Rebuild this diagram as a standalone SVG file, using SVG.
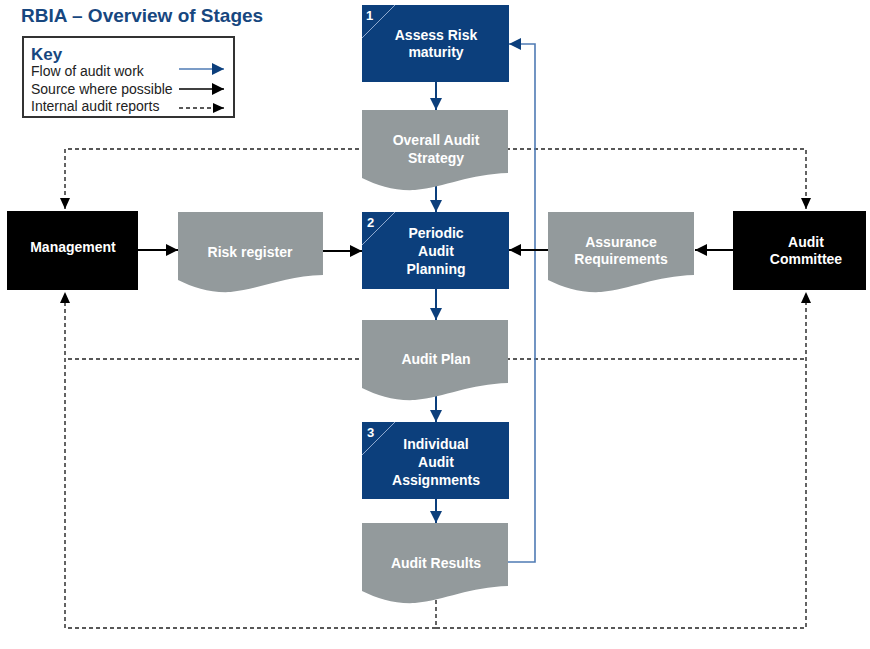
<svg xmlns="http://www.w3.org/2000/svg" xmlns:xlink="http://www.w3.org/1999/xlink" width="870" height="649" viewBox="0 0 870 649">
<style>
text{font-family:"Liberation Sans",Arial,sans-serif}
.title{font-size:19px;font-weight:bold;fill:#17477f}
.key{font-size:14px;fill:#222}
.keyh{font-size:17px;font-weight:bold;fill:#17477f}
.nt{font-size:14px;font-weight:bold;fill:#fff;text-anchor:middle}
.num{font-size:13px;font-weight:bold;fill:#fff}
.stage{fill:#0c3f7c}
.doc{fill:#939a9c}
.blk{fill:#000}
.diag{stroke:#8fa9cf;stroke-width:1;fill:none}
.flow{stroke:#0c3f7c;stroke-width:2;fill:none}
.fb{stroke:#4f7bb4;stroke-width:1.6;fill:none}
.src{stroke:#000;stroke-width:2;fill:none}
.rep{stroke:#222;stroke-width:1.4;stroke-dasharray:4 3;fill:none}
</style>
<defs>
<marker id="mBlue" markerUnits="userSpaceOnUse" markerWidth="14" markerHeight="14" refX="12" refY="7" orient="auto"><path d="M0,1 L12,7 L0,13 Z" fill="#0c3f7c"/></marker>
<marker id="mFb" markerUnits="userSpaceOnUse" markerWidth="14" markerHeight="14" refX="12" refY="7" orient="auto"><path d="M0,1 L12,7 L0,13 Z" fill="#0c3f7c"/></marker>
<marker id="mBlk" markerUnits="userSpaceOnUse" markerWidth="14" markerHeight="14" refX="12" refY="7" orient="auto"><path d="M0,1 L12,7 L0,13 Z" fill="#000"/></marker>
<marker id="mDash" markerUnits="userSpaceOnUse" markerWidth="14" markerHeight="14" refX="11" refY="6" orient="auto"><path d="M0,1 L11,6 L0,11 Z" fill="#000"/></marker>
<path id="docShape" d="M0,0 H146 V63 C108,64 83,77 53,80 C33,81 16,76 0,68 Z"/>
</defs>

<text class="title" x="21" y="22">RBIA – Overview of Stages</text>

<g id="key">
<rect x="23" y="37" width="211" height="80" fill="#fff" stroke="#333" stroke-width="2"/>
<text class="keyh" x="31" y="60">Key</text>
<text class="key" x="31" y="76">Flow of audit work</text>
<text class="key" x="31" y="94">Source where possible</text>
<text class="key" x="31" y="111">Internal audit reports</text>
<line x1="179" y1="69" x2="224" y2="69" stroke="#4f7bb4" stroke-width="1.6" marker-end="url(#mBlue)"/>
<line x1="179" y1="89" x2="224" y2="89" stroke="#000" stroke-width="1.6" marker-end="url(#mBlk)"/>
<line x1="179" y1="108" x2="224" y2="108" class="rep" marker-end="url(#mDash)"/>
</g>

<g id="connectors">
<path class="rep" d="M436,149 H65 V209" marker-end="url(#mDash)"/>
<path class="rep" d="M436,149 H806 V209" marker-end="url(#mDash)"/>
<path class="rep" d="M436,359 H65"/>
<path class="rep" d="M436,359 H806"/>
<path class="rep" d="M436,600 V628 H65 V292" marker-end="url(#mDash)"/>
<path class="rep" d="M436,628 H806 V292" marker-end="url(#mDash)"/>
<line class="flow" x1="436" y1="82" x2="436" y2="110" marker-end="url(#mBlue)"/>
<line class="flow" x1="436" y1="186" x2="436" y2="212" marker-end="url(#mBlue)"/>
<line class="flow" x1="436" y1="289" x2="436" y2="320" marker-end="url(#mBlue)"/>
<line class="flow" x1="436" y1="396" x2="436" y2="422" marker-end="url(#mBlue)"/>
<line class="flow" x1="436" y1="499" x2="436" y2="523" marker-end="url(#mBlue)"/>
<path class="fb" d="M508,562 H535 V44 H509" marker-end="url(#mFb)"/>
<line class="src" x1="138" y1="250" x2="178" y2="250" marker-end="url(#mBlk)"/>
<line class="src" x1="323" y1="251" x2="362" y2="251" marker-end="url(#mBlk)"/>
<line class="src" x1="548" y1="250" x2="509" y2="250" marker-end="url(#mBlk)"/>
<line class="src" x1="733" y1="250" x2="695" y2="250" marker-end="url(#mBlk)"/>
</g>

<g id="stage1">
<rect class="stage" x="362" y="5" width="147" height="77"/>
<line class="diag" x1="362" y1="38" x2="395" y2="5"/>
<text class="num" x="366" y="20">1</text>
<text class="nt" x="436" y="40">Assess Risk</text>
<text class="nt" x="436" y="57">maturity</text>
</g>

<g id="strategy">
<use xlink:href="#docShape" class="doc" x="362" y="110"/>
<text class="nt" x="436" y="145">Overall Audit</text>
<text class="nt" x="436" y="163">Strategy</text>
</g>

<g id="stage2">
<rect class="stage" x="362" y="212" width="147" height="77"/>
<line class="diag" x1="362" y1="245" x2="395" y2="212"/>
<text class="num" x="367" y="227">2</text>
<text class="nt" x="436" y="238">Periodic</text>
<text class="nt" x="436" y="256">Audit</text>
<text class="nt" x="436" y="274">Planning</text>
</g>

<g id="auditPlan">
<use xlink:href="#docShape" class="doc" x="362" y="320"/>
<text class="nt" x="436" y="364">Audit Plan</text>
</g>

<g id="stage3">
<rect class="stage" x="362" y="422" width="147" height="77"/>
<line class="diag" x1="362" y1="455" x2="395" y2="422"/>
<text class="num" x="367" y="437">3</text>
<text class="nt" x="436" y="449">Individual</text>
<text class="nt" x="436" y="467">Audit</text>
<text class="nt" x="436" y="485">Assignments</text>
</g>

<g id="auditResults">
<use xlink:href="#docShape" class="doc" x="362" y="523"/>
<text class="nt" x="436" y="568">Audit Results</text>
</g>

<g id="management">
<rect class="blk" x="7" y="211" width="131" height="79"/>
<text class="nt" x="73" y="252">Management</text>
</g>

<g id="riskRegister">
<use xlink:href="#docShape" class="doc" x="178" y="212" transform="translate(178,212) scale(0.993,1) translate(-178,-212)"/>
<text class="nt" x="250" y="257">Risk register</text>
</g>

<g id="assurance">
<use xlink:href="#docShape" class="doc" x="548" y="212"/>
<text class="nt" x="621" y="247">Assurance</text>
<text class="nt" x="621" y="264">Requirements</text>
</g>

<g id="auditCommittee">
<rect class="blk" x="733" y="211" width="133" height="79"/>
<text class="nt" x="806" y="247">Audit</text>
<text class="nt" x="806" y="264">Committee</text>
</g>
</svg>
